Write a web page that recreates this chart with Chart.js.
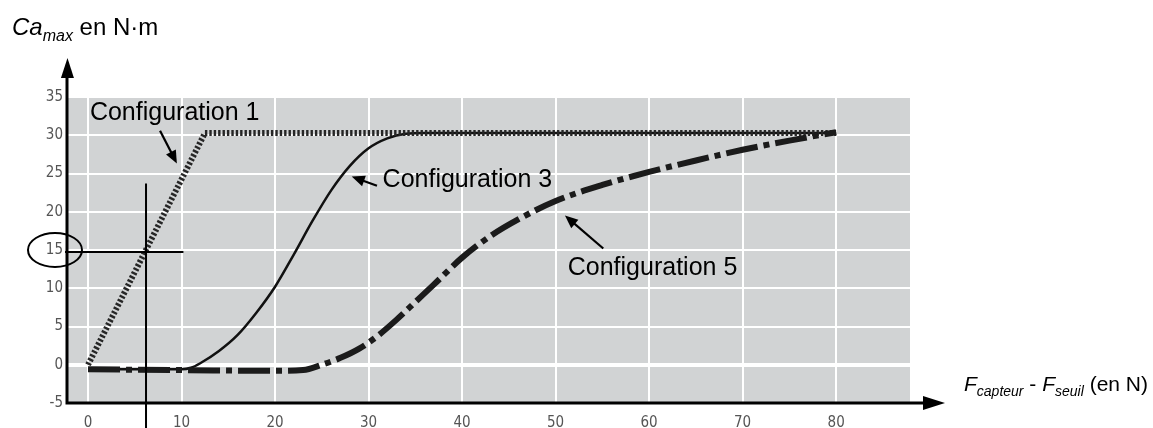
<!DOCTYPE html>
<html>
<head>
<meta charset="utf-8">
<script src="https://cdn.jsdelivr.net/npm/chart.js@4/dist/chart.umd.min.js"></script>
<style>
  html, body { margin: 0; padding: 0; background: #ffffff; }
  #wrap { width: 1153px; height: 428px; }
</style>
</head>
<body>
<div id="wrap"><canvas id="c" width="1153" height="428"></canvas></div>
<script>
// Axis ticks
const xTicks = [0, 10, 20, 30, 40, 50, 60, 70, 80];
const yTicks = [-5, 0, 5, 10, 15, 20, 25, 30, 35];

// Configuration 1: linear ramp then saturation
const config1X = [0, 12.5, 80];
const config1Y = [0, 30.3, 30.3];

// Configuration 3: S-shaped rise
const config3X = [0, 10, 11, 12, 14, 16, 18, 20, 22, 24, 26, 28, 30, 32, 34, 36, 80];
const config3Y = [-0.6, -0.6, -0.4, 0.2, 1.8, 3.9, 6.8, 10.2, 14.4, 18.8, 22.8, 26.0, 28.3, 29.6, 30.2, 30.3, 30.3];

// Configuration 5: slow progressive rise
const config5X = [0, 10, 20, 23, 25, 27, 29, 31, 33, 35, 37, 40, 43, 46, 50, 55, 60, 65, 70, 75, 80];
const config5Y = [-0.6, -0.7, -0.8, -0.7, 0.0, 0.9, 2.1, 3.8, 5.9, 8.2, 10.5, 14.0, 16.8, 19.0, 21.4, 23.5, 25.2, 26.7, 28.1, 29.3, 30.4];

// Reading of Ca_max for configuration 1
const readX = 6.2;
const readY = 15;

const toPoints = (xs, ys) => xs.map((x, i) => ({ x: x, y: ys[i] }));

const GRAY = '#d1d3d4';

// Gray plot background
const backgroundPlugin = {
  id: 'plotBackground',
  beforeDraw(chart) {
    const { ctx, chartArea: a } = chart;
    ctx.save();
    ctx.fillStyle = GRAY;
    ctx.fillRect(a.left, a.top, a.right - a.left, a.bottom - a.top);
    ctx.restore();
  }
};

function arrowHead(ctx, x1, y1, x2, y2, len, half) {
  const ang = Math.atan2(y2 - y1, x2 - x1);
  ctx.beginPath();
  ctx.moveTo(x2, y2);
  ctx.lineTo(x2 - len * Math.cos(ang) + half * Math.sin(ang), y2 - len * Math.sin(ang) - half * Math.cos(ang));
  ctx.lineTo(x2 - len * Math.cos(ang) - half * Math.sin(ang), y2 - len * Math.sin(ang) + half * Math.cos(ang));
  ctx.closePath();
  ctx.fill();
}

function arrow(ctx, x1, y1, x2, y2, width, len, half) {
  const ang = Math.atan2(y2 - y1, x2 - x1);
  ctx.lineWidth = width;
  ctx.beginPath();
  ctx.moveTo(x1, y1);
  ctx.lineTo(x2 - len * 0.6 * Math.cos(ang), y2 - len * 0.6 * Math.sin(ang));
  ctx.stroke();
  arrowHead(ctx, x1, y1, x2, y2, len, half);
}

function richText(ctx, parts, x, y) {
  let cx = x;
  for (const p of parts) {
    ctx.font = p.font;
    ctx.fillText(p.text, cx, y + (p.dy || 0));
    cx += ctx.measureText(p.text).width;
  }
}

// Axes with arrows, titles, labels and the reading lines
const overlayPlugin = {
  id: 'overlay',
  afterDatasetsDraw(chart) {
    const { ctx, chartArea: a, scales } = chart;
    const xs = scales.x, ys = scales.y;
    const px = v => xs.getPixelForValue(v);
    const py = v => ys.getPixelForValue(v);
    ctx.save();
    ctx.strokeStyle = '#000';
    ctx.fillStyle = '#000';
    ctx.lineCap = 'butt';

    // reading lines
    ctx.lineWidth = 2;
    ctx.beginPath();
    ctx.moveTo(px(readX), py(23.7));
    ctx.lineTo(px(readX), chart.height);
    ctx.moveTo(a.left - 2, py(readY) + 2);
    ctx.lineTo(px(10.2), py(readY) + 2);
    ctx.stroke();

    // ellipse around the value read on the y axis
    ctx.lineWidth = 2;
    ctx.beginPath();
    ctx.ellipse(a.left - 12, py(readY), 27, 17, 0, 0, Math.PI * 2);
    ctx.stroke();

    // axis lines
    ctx.lineWidth = 3;
    ctx.beginPath();
    ctx.moveTo(a.left, a.bottom + 1.5);
    ctx.lineTo(a.left, 70);
    ctx.moveTo(a.left - 1.5, a.bottom);
    ctx.lineTo(935, a.bottom);
    ctx.stroke();
    arrowHead(ctx, a.left, 200, a.left + 0.5, 58, 20, 6.5);
    arrowHead(ctx, 300, a.bottom, 945, a.bottom, 22, 7);

    // axis titles
    ctx.textBaseline = 'alphabetic';
    ctx.textAlign = 'left';
    const fam = '"Liberation Sans", Arial, sans-serif';
    richText(ctx, [
      { text: 'Ca', font: 'italic 24px ' + fam },
      { text: 'max', font: 'italic 16px ' + fam, dy: 6 },
      { text: ' en N·m', font: '24px ' + fam }
    ], 12, 35);
    richText(ctx, [
      { text: 'F', font: 'italic 21px ' + fam },
      { text: 'capteur', font: 'italic 14px ' + fam, dy: 5 },
      { text: ' - ', font: '21px ' + fam },
      { text: 'F', font: 'italic 21px ' + fam },
      { text: 'seuil', font: 'italic 14px ' + fam, dy: 5 },
      { text: ' (en N)', font: '21px ' + fam }
    ], 964, 391);

    // configuration labels
    ctx.font = '25px ' + fam;
    ctx.textBaseline = 'middle';
    ctx.fillText('Configuration 1', px(0.2), py(32.9));
    ctx.fillText('Configuration 3', px(31.5), py(24.1));
    ctx.fillText('Configuration 5', px(51.3), py(12.6));

    ctx.lineWidth = 2.2;
    arrow(ctx, px(7.7), py(30.6), px(9.5), py(26.3), 2.2, 13, 5.5);
    arrow(ctx, px(30.9), py(23.4), px(28.2), py(24.6), 2.2, 13, 5.5);
    arrow(ctx, px(55.1), py(15.2), px(51.0), py(19.5), 2.2, 13, 5.5);
    ctx.restore();
  }
};

const tickFont = { family: '"DejaVu Sans Condensed", "DejaVu Sans", sans-serif', size: 15 };

new Chart(document.getElementById('c'), {
  type: 'line',
  data: {
    datasets: [
      {
        label: 'Configuration 5',
        data: toPoints(config5X, config5Y),
        borderColor: '#1b1b1b',
        borderWidth: 6,
        borderDash: [32, 6, 6, 6],
        borderCapStyle: 'butt',
        cubicInterpolationMode: 'monotone',
        pointRadius: 0
      },
      {
        label: 'Configuration 1',
        data: toPoints(config1X, config1Y),
        borderColor: '#262626',
        borderWidth: 6,
        borderDash: [2.4, 2],
        borderCapStyle: 'butt',
        tension: 0,
        pointRadius: 0
      },
      {
        label: 'Configuration 3',
        data: toPoints(config3X, config3Y),
        borderColor: '#111111',
        borderWidth: 2.5,
        cubicInterpolationMode: 'monotone',
        pointRadius: 0
      }
    ]
  },
  options: {
    responsive: false,
    animation: false,
    events: [],
    layout: { padding: { top: 97, right: 243, left: 0, bottom: 0 } },
    plugins: { legend: { display: false }, tooltip: { enabled: false }, title: { display: false } },
    scales: {
      x: {
        type: 'linear',
        min: -2.25,
        max: 87.9,
        afterBuildTicks(scale) { scale.ticks = xTicks.map(v => ({ value: v })); },
        afterFit(scale) { scale.height = 25; },
        border: { display: false },
        grid: { color: '#ffffff', lineWidth: 2, drawTicks: false },
        ticks: { color: '#555', font: tickFont, padding: 11, maxRotation: 0, autoSkip: false }
      },
      y: {
        type: 'linear',
        min: -5,
        max: 35,
        afterBuildTicks(scale) { scale.ticks = yTicks.map(v => ({ value: v })); },
        afterFit(scale) { scale.width = 67; },
        border: { display: false },
        grid: {
          color: '#ffffff',
          lineWidth: ctx => (ctx.tick && ctx.tick.value === 0 ? 4 : 2),
          drawTicks: false
        },
        ticks: { color: '#555', font: tickFont, padding: 4, autoSkip: false }
      }
    }
  },
  plugins: [backgroundPlugin, overlayPlugin]
});
</script>
</body>
</html>
